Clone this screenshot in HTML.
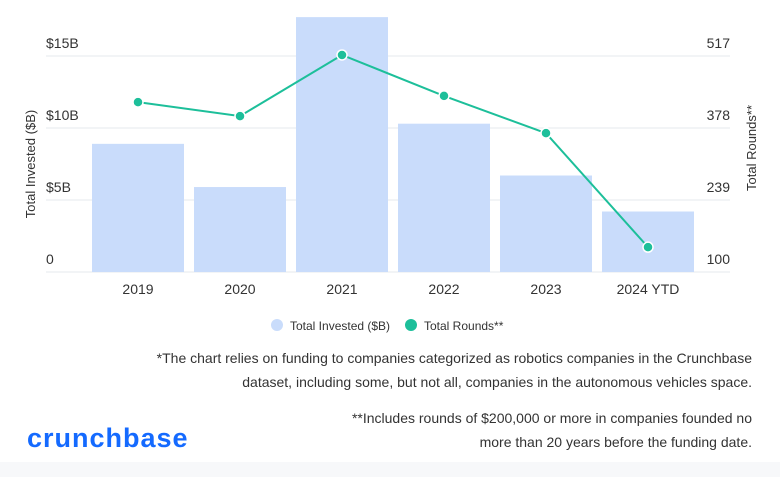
<!DOCTYPE html>
<html><head><meta charset="utf-8"><style>
body{margin:0;width:780px;height:477px;background:#fff;font-family:"Liberation Sans",sans-serif;overflow:hidden;position:relative}
.note{position:absolute;right:28px;text-align:right;color:#333;font-size:14px;line-height:24px}
</style></head><body>
<div style="position:absolute;left:0;top:462px;width:780px;height:15px;background:#f7f8fa"></div>
<svg width="780" height="340" style="position:absolute;left:0;top:0" id="chart"></svg>
<div class="note" style="top:346px">*The chart relies on funding to companies categorized as robotics companies in the Crunchbase<br>dataset, including some, but not all, companies in the autonomous vehicles space.</div>
<div class="note" style="top:406px">**Includes rounds of $200,000 or more in companies founded no<br>more than 20 years before the funding date.</div>
<div style="position:absolute;left:27px;top:423px;color:#146aff;font-size:27px;font-weight:bold;letter-spacing:1px">crunchbase</div>
<script>
const categories=["2019","2020","2021","2022","2023","2024 YTD"];
const invested=[8.9,5.9,17.7,10.3,6.7,4.2];
const rounds=[428,401,519,440,368,148];
const leftTicks=[0,5,10,15];
const leftLabels=["0","$5B","$10B","$15B"];
const rightLabels=["100","239","378","517"];
const NS="http://www.w3.org/2000/svg";
const svg=document.getElementById('chart');
function el(t,a,p){const e=document.createElementNS(NS,t);for(const k in a)e.setAttribute(k,a[k]);(p||svg).appendChild(e);return e;}
const y0=272,pxPer=14.4;
const yL=v=>y0-v*pxPer;
const yR=v=>y0-(v-100)*(216/417);
const slot=102,x0=87;
const xC=i=>x0+slot*i+slot/2;
leftTicks.forEach((t,i)=>{
 const g=el('line',{x1:46,x2:730,y1:yL(t),y2:yL(t),stroke:'#e6e8ec','stroke-width':1});
 
 const a=el('text',{x:46,y:yL(t)-8,'font-size':14,fill:'#333'});a.textContent=leftLabels[i];
 
 const b=el('text',{x:730,y:yL(t)-8,'font-size':14,fill:'#333','text-anchor':'end'});b.textContent=rightLabels[i];
 
});
categories.forEach((c,i)=>{
 const r=el('rect',{x:xC(i)-46,y:yL(invested[i]),width:92,height:y0-yL(invested[i]),fill:'#c9dcfb'});
 
 
 const t=el('text',{x:xC(i),y:294,'font-size':14,fill:'#333','text-anchor':'middle'});t.textContent=c;
 
});
const pl=el('polyline',{points:rounds.map((v,i)=>xC(i)+','+yR(v)).join(' '),fill:'none',stroke:'#1dbf9a','stroke-width':2});

rounds.forEach((v,i)=>{
 const d=el('circle',{cx:xC(i),cy:yR(v),r:5,fill:'#1dbf9a',stroke:'#fff','stroke-width':1.5});
 
});
const t1=el('text',{transform:'translate(35,164) rotate(-90)','font-size':13,fill:'#333','text-anchor':'middle'});t1.textContent='Total Invested ($B)';

const t2=el('text',{transform:'translate(756,148) rotate(-90)','font-size':13,fill:'#333','text-anchor':'middle'});t2.textContent='Total Rounds**';

const l1=el('circle',{cx:277,cy:325,r:6,fill:'#c9dcfb'});
const l1t=el('text',{x:290,y:330,'font-size':12,fill:'#333'});l1t.textContent='Total Invested ($B)';

const l2=el('circle',{cx:411,cy:325,r:6,fill:'#1dbf9a'});
const l2t=el('text',{x:424,y:330,'font-size':12,fill:'#333'});l2t.textContent='Total Rounds**';

</script>
</body></html>
